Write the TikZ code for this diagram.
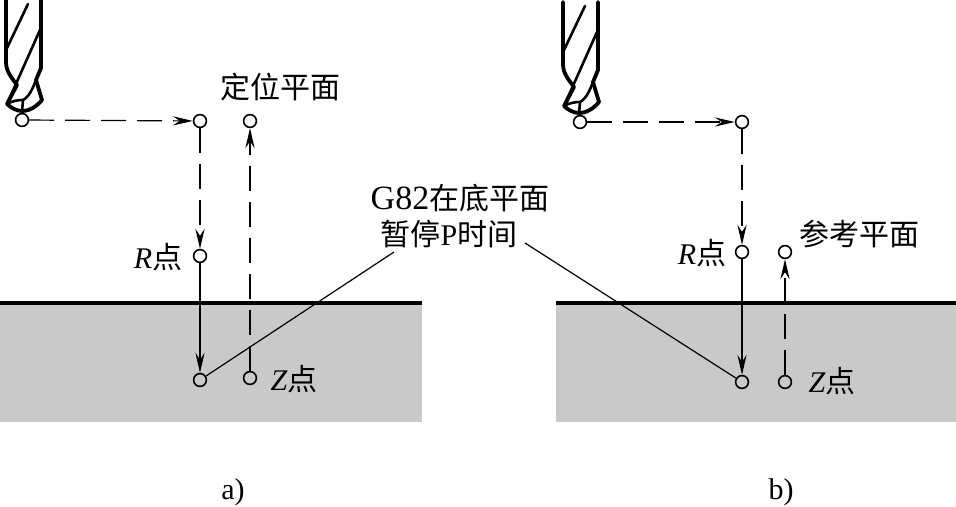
\documentclass[tikz,border=0pt]{standalone}
\usepackage{fontspec}
\setmainfont{Liberation Serif}
\newfontfamily\cjk{Noto Sans CJK SC}
\usetikzlibrary{arrows.meta}

\begin{document}
\begin{tikzpicture}[
  x=0.5pt, y=-0.5pt,
  every node/.style={inner sep=0pt, font=\fontsize{15}{17}\selectfont},
  point/.style={draw, circle, minimum size=6.4pt, line width=0.8pt},
  move/.style={line width=0.6pt, -{Stealth[length=10pt, width=4.6pt, inset=3.5pt]}},
  rapid/.style={move, dash pattern=on 12.5pt off 5.5pt},
  leader/.style={line width=0.6pt},
  ground/.style={line width=1.9pt},
  drill/.style={line width=1.3pt, line cap=round, line join=round},
  shank/.style={line width=1.9pt, line cap=round, line join=round},
  blank/.style={fill=black!21, draw=none}
  ]
\useasboundingbox (0,0) rectangle (956,507);

% 工件
\fill[blank] (0,304) rectangle (422,422);
\fill[blank] (556,304) rectangle (956,422);
\coordinate (ga) at (0,303);
\coordinate (gb) at (422,303);
\coordinate (gc) at (556,303);
\coordinate (gd) at (956,303);
\draw[ground] (ga) -- (gb);
\draw[ground] (gc) -- (gd);

% 钻头
\foreach \dx/\dy in {0/0, 557/2} {
\begin{scope}[shift={(\dx,\dy)}, drill]
  \draw[shank] (6,0) -- (6,62) .. controls (6,72) and (12,78) .. (17,85) -- (7,104)
    .. controls (11,108) and (17,111) .. (22,111) .. controls (30,111) and (37,106) .. (42,100)
    -- (36,80) -- (41,68) -- (41,0);
  \draw (28,4) -- (7,48);
  \draw (40,30) -- (7,104);
  \draw (7,104) .. controls (12,101) and (18,100) .. (23,100) .. controls (29,97) and (33,88) .. (36,80);
  \draw (23,100) -- (22,112);
\end{scope}
}

% 图 a
\node[point] (sa) at (22,120) {};
\node[point] (ia) at (200,121) {};
\node[point] (ua) at (250,121) {};
\node[point] (ra) at (200,256) {};
\node[point] (za) at (200,380) {};
\node[point] (ya) at (250,378) {};
\draw[rapid] (sa) -- (ia);
\draw[rapid] (ia) -- (ra);
\draw[move] (ra) -- (za);
\draw[rapid] (ya) -- (ua);

% 图 b
\node[point] (sb) at (580,122) {};
\node[point] (ib) at (742,122) {};
\node[point] (rb) at (742,252) {};
\node[point] (ub) at (785,252) {};
\node[point] (zb) at (742,382) {};
\node[point] (yb) at (785,382) {};
\draw[rapid] (sb) -- (ib);
\draw[rapid] (ib) -- (rb);
\draw[move] (rb) -- (zb);
\draw[rapid] (yb) -- (ub);

% 文字
\node (ta) at (280,87) {\cjk 定位平面};
\node (tb) at (859,234) {\cjk 参考平面};
\node (gl) at (460,198) {{\fontsize{17}{17}\selectfont G82}{\cjk 在底平面}};
\node (pl) at (449,234) {\cjk 暂停{\rmfamily P}时间};
\node (lra) at (158,257) {\textit{R}\cjk 点};
\node (lza) at (294,379) {\textit{Z}\cjk 点};
\node (lrb) at (702,253) {\textit{R}\cjk 点};
\node (lzb) at (832,381) {\textit{Z}\cjk 点};
\node (ca) at (233,492) {a)};
\node (cb) at (781,492) {b)};

\coordinate (la) at (394,252);
\coordinate (lb) at (525,243);
\draw[leader] (za) -- (la);
\draw[leader] (lb) -- (zb);

\end{tikzpicture}
\end{document}
